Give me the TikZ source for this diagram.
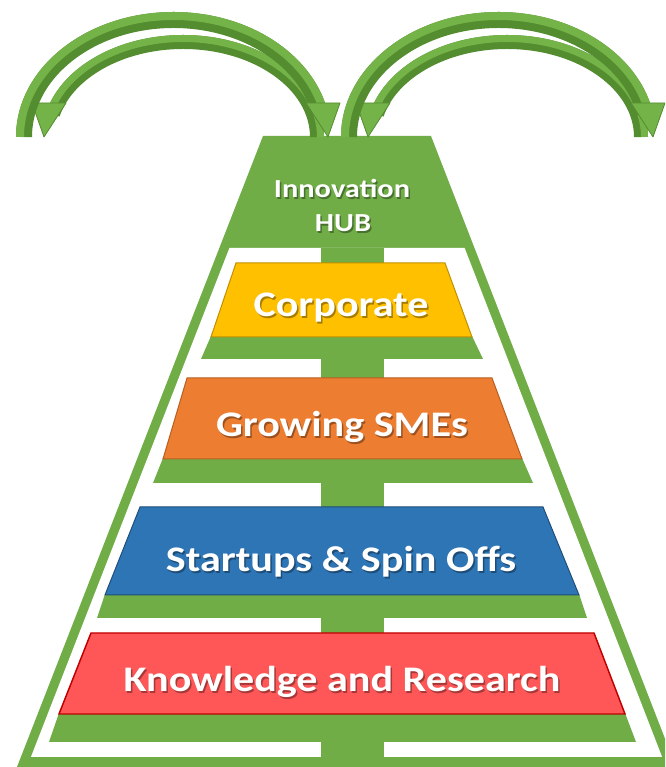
\documentclass[tikz,border=0pt]{standalone}
\usepackage{fontspec}
\setmainfont{Carlito}
\definecolor{grn}{HTML}{70AD47}
\definecolor{agrnL}{HTML}{74B347}
\definecolor{agrnD}{HTML}{548C30}
\definecolor{yel}{HTML}{FFC000}
\definecolor{yelD}{HTML}{BF9000}
\definecolor{org}{HTML}{ED7D31}
\definecolor{orgD}{HTML}{B85E20}
\definecolor{blu}{HTML}{2E75B6}
\definecolor{bluD}{HTML}{1F4E79}
\definecolor{rd}{HTML}{FF5757}
\definecolor{rdD}{HTML}{C00000}
\begin{document}
\begin{tikzpicture}[x=0.75pt,y=0.75pt,
  lbl/.style={text=white, font=\bfseries\fontsize{27}{32}\selectfont, inner sep=0pt, anchor=base},
  lblshadow/.style={lbl, text=black, opacity=0.35},
  hublbl/.style={lbl, font=\bfseries\fontsize{19.5}{24}\selectfont},
  hubshadow/.style={hublbl, text=black, opacity=0.35},
  bandA/.style={draw=agrnD, line width=12pt},
  bandAhi/.style={draw=agrnL, line width=6pt},
  bandB/.style={draw=agrnD, line width=10.5pt},
  bandBhi/.style={draw=agrnL, line width=5.25pt},
  headtip/.style={fill=agrnL, draw=agrnD, line width=0.6pt, line join=round},
  bar/.style={fill=grn}
]
\useasboundingbox (0,0) rectangle (665,767);
\clip (0,0) rectangle (665,767);
\fill[white] (0,0) rectangle (665,767);

% pyramid frame
\fill[grn] (263,631) -- (431,631) -- (676,0) -- (17,0) -- cycle;
\fill[white] ({27+0.390*519},519) -- ({666-0.388*519},519) -- ({666-0.388*10},10) -- ({27+0.390*10},10) -- cycle;
\fill[grn] (321,0) rectangle (384,519);

% Corporate
\fill[bar] (211,431) -- (472,431) -- (483,408) -- (201,408) -- cycle;
\filldraw[fill=yel, draw=yelD, line width=0.75pt] (236,504) -- (445,504) -- (472,430) -- (211,430) -- cycle;
% Growing SMEs
\fill[bar] (163,309) -- (522,309) -- (533,284) -- (153,284) -- cycle;
\filldraw[fill=org, draw=orgD, line width=0.75pt] (187,389) -- (492,389) -- (522,308) -- (163,308) -- cycle;
% Startups
\fill[bar] (105,173) -- (579,173) -- (587,149) -- (97,149) -- cycle;
\filldraw[fill=blu, draw=bluD, line width=0.75pt] (140,260) -- (543,260) -- (579,172) -- (105,172) -- cycle;
% Knowledge
\fill[bar] (59,54) -- (625,54) -- (636,25) -- (49,25) -- cycle;
\filldraw[fill=rd, draw=rdD, line width=1.1pt] (91,134) -- (594,134) -- (625,53) -- (59,53) -- cycle;

% texts
\node[hubshadow] (hub1s) at (343.5,567.5) {\scalebox{1.17}[1]{Innovation}};
\node[hublbl] (hub1) at (342,569) {\scalebox{1.17}[1]{Innovation}};
\node[hubshadow] (hub2s) at (344.5,533.5) {\scalebox{1.17}[1]{HUB}};
\node[hublbl] (hub2) at (343,535) {\scalebox{1.17}[1]{HUB}};

\node[lblshadow] (corps) at (342.5,448.8) {\scalebox{1.17}[1]{Corporate}};
\node[lbl] (corp) at (341,450.3) {\scalebox{1.17}[1]{Corporate}};
\node[lblshadow] (smes) at (343.5,328.8) {\scalebox{1.17}[1]{Growing SMEs}};
\node[lbl] (sme) at (342,330.3) {\scalebox{1.17}[1]{Growing SMEs}};
\node[lblshadow] (starts) at (342.5,193.5) {\scalebox{1.17}[1]{Startups \& Spin Offs}};
\node[lbl] (start) at (341,195) {\scalebox{1.17}[1]{Startups \& Spin Offs}};
\node[lblshadow] (knows) at (343.5,73.8) {\scalebox{1.17}[1]{Knowledge and Research}};
\node[lbl] (know) at (342,75.3) {\scalebox{1.17}[1]{Knowledge and Research}};

% ---- left arrow pair ----
% inner (right to left)
\draw[bandB] (317,630) arc[start angle=0, end angle=166, x radius=134, y radius=95];
\draw[bandBhi] (320.5,630) arc[start angle=0, end angle=166, x radius=137.5, y radius=98.5];
\fill[headtip] (32,664) -- (66,664) -- (44,630) -- cycle;
% outer (left to right)
\draw[bandA] (24,630) arc[start angle=180, end angle=12, x radius=149.5, y radius=117];
\draw[bandAhi] (20,630) arc[start angle=180, end angle=12, x radius=153.5, y radius=121];
\fill[headtip] (306,664) -- (340,664) -- (328,630) -- cycle;

% ---- right arrow pair ----
\draw[bandB] (641,630) arc[start angle=0, end angle=166, x radius=134, y radius=95];
\draw[bandBhi] (644.5,630) arc[start angle=0, end angle=166, x radius=137.5, y radius=98.5];
\fill[headtip] (356,664) -- (390,664) -- (368,630) -- cycle;
\draw[bandA] (349,630) arc[start angle=180, end angle=12, x radius=149.5, y radius=117];
\draw[bandAhi] (345,630) arc[start angle=180, end angle=12, x radius=153.5, y radius=121];
\fill[headtip] (631,664) -- (665,664) -- (653,630) -- cycle;
\end{tikzpicture}
\end{document}
